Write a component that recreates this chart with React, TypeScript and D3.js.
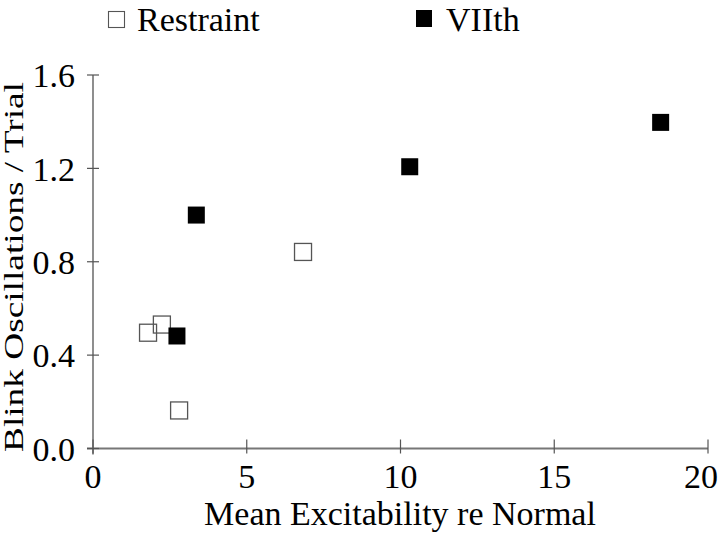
import React from "react";
import * as d3 from "d3";

const restraintX = [1.79, 2.24, 2.8, 6.83];
const restraintY = [0.496, 0.531, 0.163, 0.842];
const viithX = [2.73, 3.36, 10.3, 18.46];
const viithY = [0.482, 1.0, 1.207, 1.397];
const xTicks = [0, 5, 10, 15, 20];
const yTicks = [0, 0.4, 0.8, 1.2, 1.6];

const W = 720, H = 533;
const FONT = "Liberation Serif";

export default function App() {
  const x = d3.scaleLinear().domain([0, 20]).range([93, 708]);
  const y = d3.scaleLinear().domain([0, 1.6]).range([448.5, 75]);
  const s = 17;
  const axisColor = "#555";
  const txt = (size: number) => ({ fontFamily: FONT, fontSize: size, fill: "#000" });
  return (
    <svg width={W} height={H} style={{ position: "absolute", left: 0, top: 0, background: "#fff" }}>
      {/* legend */}
      <rect x={108.5} y={11.5} width={16} height={16} fill="#fff" stroke="#555" strokeWidth={1.1} />
      <text x={137} y={31} style={txt(34)}>Restraint</text>
      <rect x={416} y={10} width={16} height={17} fill="#000" />
      <text x={446} y={31} style={txt(34)}>VIIth</text>

      {/* axes */}
      <line x1={x(0)} x2={x(0)} y1={y(1.6)} y2={y(0) + 6} stroke="#444" strokeWidth={1.2} />
      <line x1={x(0) - 6} x2={x(20)} y1={y(0)} y2={y(0)} stroke="#777" strokeWidth={2} />
      {yTicks.map((t) => (
        <g key={"y" + t}>
          <line x1={x(0) - 6} x2={x(0) + 6} y1={y(t)} y2={y(t)} stroke={axisColor} strokeWidth={1.2} />
          <text x={75} y={y(t)} dy="0.36em" textAnchor="end" style={txt(34)}>
            {t.toFixed(1)}
          </text>
        </g>
      ))}
      {xTicks.map((t) => (
        <g key={"x" + t}>
          <line x1={x(t)} x2={x(t)} y1={y(0) - 9} y2={y(0) + 5} stroke={axisColor} strokeWidth={1.2} />
          <text x={Math.min(x(t), W - 19)} y={488} textAnchor="middle" style={txt(34)}>
            {t}
          </text>
        </g>
      ))}
      <text x={400} y={525} textAnchor="middle" style={txt(34)}>
        Mean Excitability re Normal
      </text>
      <text transform={`translate(23, 267) rotate(-90)`} textAnchor="middle" style={txt(27)}
        textLength={370} lengthAdjust="spacingAndGlyphs">
        Blink Oscillations / Trial
      </text>

      {/* points */}
      {restraintX.map((v, i) => (
        <rect key={"r" + i} x={x(v) - s / 2} y={y(restraintY[i]) - s / 2} width={s} height={s}
          fill="none" stroke="#555" strokeWidth={1.3} />
      ))}
      {viithX.map((v, i) => (
        <rect key={"v" + i} x={x(v) - s / 2} y={y(viithY[i]) - s / 2} width={s} height={s} fill="#000" />
      ))}
    </svg>
  );
}
